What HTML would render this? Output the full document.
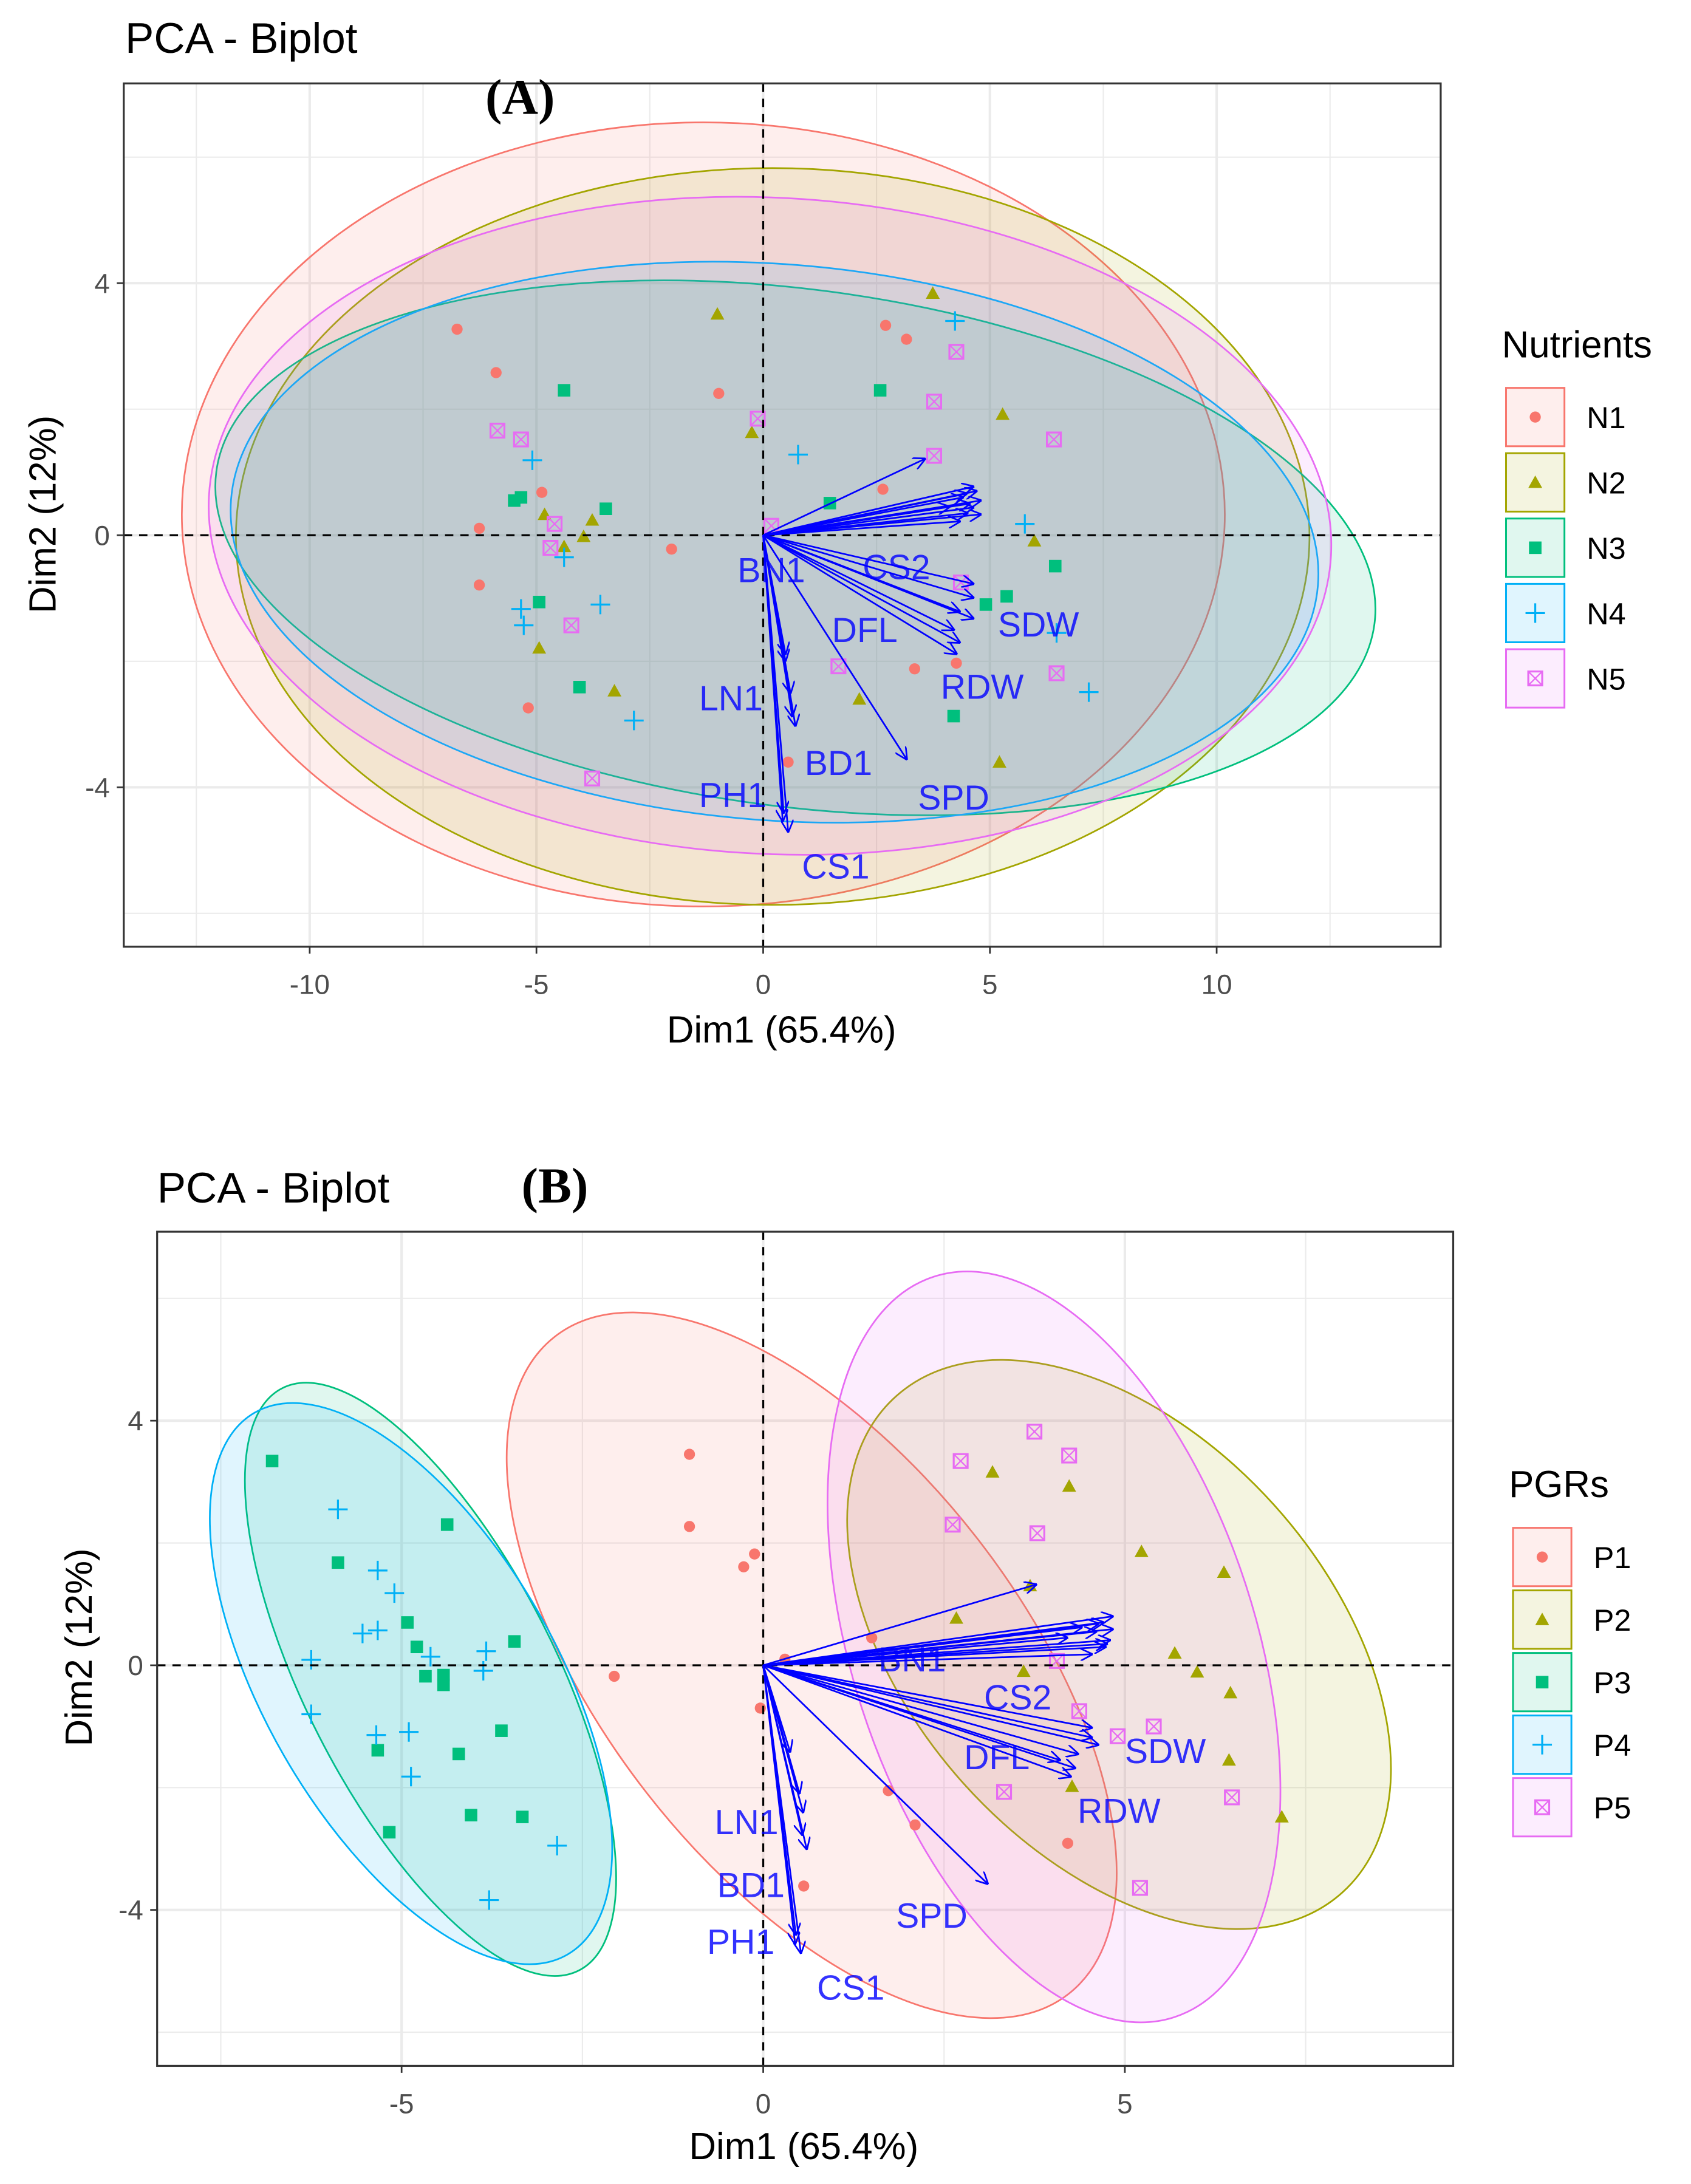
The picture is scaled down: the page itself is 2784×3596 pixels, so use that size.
<!DOCTYPE html>
<html><head><meta charset="utf-8"><style>
html,body{margin:0;padding:0;background:#fff;}
svg{display:block;}
text{font-family:"Liberation Sans",sans-serif;}
</style></head><body>
<svg id="fig" xmlns="http://www.w3.org/2000/svg" width="2784" height="3596" viewBox="0 0 1216 1571" preserveAspectRatio="none">
<defs>
<marker id="ah" viewBox="0 0 10 10" refX="9" refY="5" markerWidth="9" markerHeight="9" markerUnits="userSpaceOnUse" orient="auto">
<path d="M0,0 L10,5 L0,10" fill="none" stroke="#0000ff" stroke-width="1.3"/>
</marker>
</defs>
</svg>
<script>
// ---------- Data: Panel A (Nutrients) ----------
const a_N1 = [[-6.75,3.27],[-5.89,2.58],[-4.88,0.68],[-6.26,0.11],[-6.26,-0.79],[-5.18,-2.74],[-0.98,2.25],[-2.02,-0.22],[2.70,3.33],[3.16,3.11],[2.64,0.73],[4.26,-2.03],[3.34,-2.12],[0.55,-3.60]];
const a_N2 = [[-1.01,3.51],[-0.25,1.63],[-4.82,0.33],[-3.77,0.24],[-4.39,-0.18],[-4.94,-1.79],[-3.28,-2.47],[3.74,3.84],[5.28,1.92],[5.98,-0.09],[2.12,-2.60],[5.21,-3.60],[-3.96,-0.02]];
const a_N3 = [[-4.39,2.30],[-5.49,0.55],[-5.34,0.60],[-3.47,0.42],[-4.94,-1.06],[-4.05,-2.41],[2.58,2.30],[1.47,0.51],[4.91,-1.10],[5.37,-0.97],[6.44,-0.49],[4.20,-2.87]];
const a_N4 = [[-5.09,1.19],[-5.34,-1.17],[-5.28,-1.43],[-4.39,-0.35],[-3.59,-1.10],[-2.85,-2.94],[0.77,1.28],[4.23,3.40],[5.77,0.18],[6.47,-1.55],[7.18,-2.49]];
const a_N5 = [[-5.86,1.66],[-5.34,1.52],[-4.60,0.18],[-4.69,-0.20],[-4.23,-1.43],[-3.77,-3.86],[-0.12,1.85],[0.18,0.15],[3.77,1.26],[3.77,2.12],[4.26,2.91],[4.36,-0.75],[6.41,1.52],[6.47,-2.19],[1.66,-2.08]];
const a_ellCenters = [[-1.32,0.33],[0.21,-0.02],[0.71,-0.20],[0.25,-0.11],[0.15,0.15]];
const a_loadX = [4.79,4.63,4.63,4.33,4.26,3.16,0.49,0.71,0.43,0.55,3.56,4.63,4.79,4.63,4.48,4.63,4.33,0.49,0.64,4.33,4.70,4.55,4.40,4.10,4.50,4.20,0.60,0.45];
const a_loadY = [0.55,-0.77,-1.32,-1.70,-1.88,-3.55,-1.99,-3.02,-4.53,-4.70,1.21,0.77,0.33,0.44,0.66,-0.99,-1.21,-1.88,-2.87,0.22,0.70,0.50,0.60,0.45,0.35,-1.50,-2.50,-4.40];
const a_labNames = ["BN1","CS2","SDW","DFL","RDW","LN1","BD1","PH1","SPD","CS1"];
const a_labX = [0.18,2.94,6.07,2.24,4.83,-0.71,1.66,-0.67,4.20,1.60];
const a_labY = [-0.60,-0.55,-1.46,-1.55,-2.45,-2.63,-3.66,-4.17,-4.21,-5.30];
const a_xticks = [-10,-5,0,5,10];
const a_yticks = [-4,0,4];
// ---------- Data: Panel B (PGRs) ----------
const b_P1 = [[-1.02,3.45],[-1.02,2.27],[-0.12,1.82],[-0.27,1.61],[-2.06,-0.18],[-0.04,-0.70],[1.73,-2.05],[2.10,-2.61],[0.56,-3.61],[4.21,-2.91],[1.50,0.45],[0.30,0.10]];
const b_P2 = [[3.17,3.16],[4.23,2.93],[3.69,1.30],[5.23,1.86],[6.37,1.52],[5.69,0.20],[6.00,-0.11],[6.46,-0.45],[6.44,-1.55],[7.17,-2.48],[4.27,-1.98],[2.67,0.77],[3.60,-0.10]];
const b_P3 = [[-6.79,3.34],[-5.88,1.68],[-4.37,2.30],[-4.92,0.70],[-4.79,0.30],[-4.42,-0.16],[-4.42,-0.32],[-4.67,-0.18],[-3.44,0.39],[-5.33,-1.39],[-4.21,-1.45],[-3.62,-1.07],[-4.04,-2.45],[-3.33,-2.48],[-5.17,-2.73]];
const b_P4 = [[-5.88,2.55],[-5.33,1.55],[-5.10,1.18],[-5.54,0.52],[-5.33,0.57],[-6.25,0.09],[-4.60,0.14],[-3.83,0.23],[-3.87,-0.09],[-6.25,-0.80],[-5.35,-1.14],[-4.90,-1.09],[-4.87,-1.82],[-2.85,-2.95],[-3.79,-3.84]];
const b_P5 = [[3.75,3.82],[4.23,3.43],[2.73,3.34],[3.79,2.16],[2.62,2.30],[4.37,-0.75],[4.90,-1.16],[5.40,-1.00],[6.48,-2.16],[3.33,-2.07],[5.21,-3.64],[4.06,0.07]];
const b_ellCenters = [[0.67,0.00],[4.92,0.34],[-4.60,-0.23],[-4.87,-0.30],[4.02,0.30]];
const b_loadX = [4.83,4.54,4.63,4.31,4.25,3.10,0.60,0.54,0.44,0.52,3.77,4.83,4.79,4.73,4.63,4.54,4.35,0.37,0.50,4.54,4.70,4.60,4.40,4.20,4.75,4.10,0.55,0.45];
const b_loadY = [0.59,-1.02,-1.30,-1.68,-1.82,-3.57,-3.00,-2.77,-4.55,-4.70,1.32,0.80,0.41,0.30,0.68,-1.18,-1.45,-1.41,-2.09,0.18,0.70,0.55,0.62,0.45,0.35,-1.55,-2.40,-4.40];
const b_labNames = ["BN1","CS2","SDW","DFL","RDW","LN1","BD1","SPD","PH1","CS1"];
const b_labX = [2.06,3.52,5.56,3.23,4.92,-0.23,-0.17,2.33,-0.31,1.21];
const b_labY = [0.05,-0.57,-1.45,-1.55,-2.43,-2.61,-3.64,-4.14,-4.57,-5.32];
const b_xticks = [-5,0,5];
const b_yticks = [-4,0,4];

const COLORS = ["#F8766D","#A3A500","#00BF7D","#00B0F6","#E76BF3"];
const NS = "http://www.w3.org/2000/svg";
const svg = document.getElementById("fig");
function mk(tag, attrs, parent){
  const e = document.createElementNS(NS, tag);
  for (const k in attrs) e.setAttribute(k, attrs[k]);
  (parent||svg).appendChild(e);
  return e;
}
function txt(s, attrs, parent){ const t = mk("text", attrs, parent); t.textContent = s; return t; }

function drawShape(g, shape, px, py, col){
  let e;
  if (shape===0){ e = mk("circle",{cx:px,cy:py,r:4,fill:col},g); }
  else if (shape===1){ e = mk("polygon",{points:`${px},${py-5} ${px+5},${py+4} ${px-5},${py+4}`,fill:col},g); }
  else if (shape===2){ e = mk("rect",{x:px-4.5,y:py-4.5,width:9,height:9,fill:col},g); }
  else if (shape===3){ e = mk("path",{d:`M${px-7},${py}H${px+7}M${px},${py-7}V${py+7}`,stroke:col,"stroke-width":1.4,fill:"none"},g); }
  else { e = mk("g",{},g);
    mk("rect",{x:px-5,y:py-5,width:10,height:10,fill:"none",stroke:col,"stroke-width":1.4},e);
    mk("path",{d:`M${px-5},${py-5}L${px+5},${py+5}M${px+5},${py-5}L${px-5},${py+5}`,stroke:col,"stroke-width":1},e); }
  return e;
}

function panel(P){
  const X = v => P.x0 + (v - P.xmin)/(P.xmax-P.xmin)*(P.x1-P.x0);
  const Y = v => P.y1 - (v - P.ymin)/(P.ymax-P.ymin)*(P.y1-P.y0);
  const g = mk("g",{});
  
  
  mk("rect",{x:P.x0,y:P.y0,width:P.x1-P.x0,height:P.y1-P.y0,fill:"#fff"},g);
  const grid = mk("g",{},g);
  
  
  const step = P.xticks[1]-P.xticks[0];
  for (let v=Math.ceil(P.xmin/(step/2))*(step/2); v<=P.xmax; v+=step/2){
    const major = P.xticks.includes(v);
    mk("line",{x1:X(v),x2:X(v),y1:P.y0,y2:P.y1,stroke:"#ebebeb","stroke-width":major?1.8:0.9},grid);
  }
  const ys = P.yticks[1]-P.yticks[0];
  for (let v=Math.ceil(P.ymin/(ys/2))*(ys/2); v<=P.ymax; v+=ys/2){
    const major = P.yticks.includes(v);
    mk("line",{x1:P.x0,x2:P.x1,y1:Y(v),y2:Y(v),stroke:"#ebebeb","stroke-width":major?1.8:0.9},grid);
  }
  P.ell.forEach((c,i)=>{
    const e = mk("ellipse",{cx:0,cy:0,rx:P.ellR[i][0],ry:P.ellR[i][1],fill:COLORS[i],"fill-opacity":0.12,stroke:COLORS[i],"stroke-width":1.2,
      transform:`translate(${X(c[0])},${Y(c[1])}) rotate(${P.ellR[i][2]})`},g);
    
    
  });
  P.pts.forEach((arr,i)=>{
    const pg = mk("g",{},g);
    
    
    arr.forEach(p=>{
      const e = drawShape(pg, i, X(p[0]), Y(p[1]), COLORS[i]);
      
      
    });
  });
  const z1 = mk("line",{x1:X(0),x2:X(0),y1:P.y0,y2:P.y1,stroke:"#000","stroke-width":1.4,"stroke-dasharray":"6,5"},g);
  
  
  const z2 = mk("line",{x1:P.x0,x2:P.x1,y1:Y(0),y2:Y(0),stroke:"#000","stroke-width":1.4,"stroke-dasharray":"6,5"},g);
  
  
  P.lx.forEach((lx,i)=>{
    const a = mk("line",{x1:X(0),y1:Y(0),x2:X(lx),y2:Y(P.ly[i]),stroke:"#0000ff","stroke-width":1.2,"marker-end":"url(#ah)"},g);
    
    
  });
  P.labN.forEach((n,i)=>{
    const t = txt(n,{x:X(P.labX[i]),y:Y(P.labY[i]),"text-anchor":"middle","dominant-baseline":"middle","font-size":25,fill:"#0000ff","fill-opacity":0.8},g);
    
    
  });
  mk("rect",{x:P.x0,y:P.y0,width:P.x1-P.x0,height:P.y1-P.y0,fill:"none",stroke:"#333","stroke-width":1.4},g);
  P.xticks.forEach(v=>{
    mk("line",{x1:X(v),x2:X(v),y1:P.y1,y2:P.y1+5,stroke:"#333","stroke-width":1.2},g);
    const t = txt(String(v),{x:X(v),y:P.y1+34,"text-anchor":"middle","font-size":20,fill:"#4d4d4d"},g);
    
    
  });
  P.yticks.forEach(v=>{
    mk("line",{x1:P.x0-5,x2:P.x0,y1:Y(v),y2:Y(v),stroke:"#333","stroke-width":1.2},g);
    const t = txt(String(v),{x:P.x0-10,y:Y(v)+7,"text-anchor":"end","font-size":20,fill:"#4d4d4d"},g);
    
    
  });
  const xt = txt("Dim1 (65.4%)",{x:P.xlabX,y:P.xlabY,"text-anchor":"middle","font-size":27,fill:"#000"},g);
  
  
  const yt = txt("Dim2 (12%)",{x:0,y:0,"text-anchor":"middle","font-size":27,fill:"#000",transform:`translate(${P.ylabX},${P.ylabY}) rotate(-90)`},g);
  
  
  const tt = txt("PCA - Biplot",{x:P.titleX,y:P.titleY,"font-size":31,fill:"#000"},g);
  
  
  const tl = txt(P.tag,{x:P.tagX,y:P.tagY,"text-anchor":"middle","font-size":36,"font-weight":"bold",style:"font-family:'Liberation Serif',serif",fill:"#000"},g);
  
  
  const lg = mk("g",{},g);
  
  
  const lt = txt(P.legTitle,{x:P.legX-3,y:P.legY-43,"font-size":27,fill:"#000"},lg);
  
  
  P.groups.forEach((n,i)=>{
    const y = P.legY + i*P.legStep;
    const e = mk("g",{},lg);
    
    
    mk("rect",{x:P.legX,y:y-21,width:42,height:42,fill:COLORS[i],"fill-opacity":0.12,stroke:COLORS[i],"stroke-width":1.3},e);
    drawShape(e,i,P.legX+21,y,COLORS[i]);
    txt(n,{x:P.legX+58,y:y+8,"font-size":22,fill:"#000"},e);
  });
}

panel({id:"panel-a",x0:89,x1:1036,y0:60,y1:681,xmin:-14.1,xmax:14.94,ymin:-6.53,ymax:7.17,
  xticks:a_xticks,yticks:a_yticks,groups:["N1","N2","N3","N4","N5"],pts:[a_N1,a_N2,a_N3,a_N4,a_N5],
  ell:a_ellCenters,ellR:[[375,282,0],[386,265,0],[420,186,7.5],[392,200,4.5],[404,236,3]],
  lx:a_loadX,ly:a_loadY,labN:a_labNames,labX:a_labX,labY:a_labY,
  xlabX:562,xlabY:750,ylabX:40,ylabY:370,titleX:90,titleY:38,tag:"(A)",tagX:374,tagY:82,
  legTitle:"Nutrients",legX:1083,legY:300,legStep:47});
panel({id:"panel-b",x0:113,x1:1045,y0:886,y1:1486,xmin:-8.38,xmax:9.54,ymin:-6.55,ymax:7.09,
  xticks:b_xticks,yticks:b_yticks,groups:["P1","P2","P3","P4","P5"],pts:[b_P1,b_P2,b_P3,b_P4,b_P5],
  ell:b_ellCenters,ellR:[[300,150,52],[240,150,48],[235,90,63],[225,105,60],[280,145,72]],
  lx:b_loadX,ly:b_loadY,labN:b_labNames,labX:b_labX,labY:b_labY,
  xlabX:578,xlabY:1553,ylabX:66,ylabY:1185,titleX:113,titleY:865,tag:"(B)",tagX:399,tagY:865,
  legTitle:"PGRs",legX:1088,legY:1120,legStep:45});
</script>
</body></html>
